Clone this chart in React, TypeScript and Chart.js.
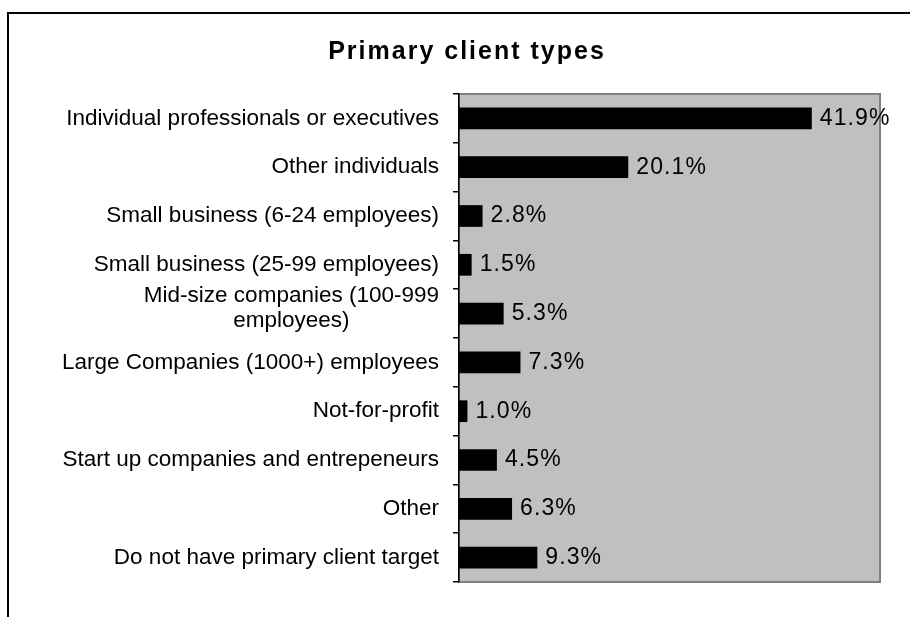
import React, { useEffect, useRef } from "react";
import { Chart, registerables } from "chart.js";

Chart.register(...registerables);

const TITLE = "Primary client types";
const categories: (string | string[])[] = [
  "Individual professionals or executives",
  "Other individuals",
  "Small business (6-24 employees)",
  "Small business (25-99 employees)",
  ["Mid-size companies (100-999", "employees)"],
  "Large Companies (1000+) employees",
  "Not-for-profit",
  "Start up companies and entrepeneurs",
  "Other",
  "Do not have primary client target",
];
const values: number[] = [41.9, 20.1, 2.8, 1.5, 5.3, 7.3, 1.0, 4.5, 6.3, 9.3];

const FONT = '"Liberation Sans", Arial, sans-serif';

const plotBgPlugin = {
  id: "plotBg",
  beforeDraw(chart: any) {
    const { ctx, chartArea: a } = chart;
    ctx.save();
    ctx.fillStyle = "#c0c0c0";
    ctx.fillRect(a.left, a.top, a.right - a.left, a.bottom - a.top);
    ctx.strokeStyle = "#808080";
    ctx.lineWidth = 2;
    ctx.strokeRect(a.left, a.top, a.right - a.left, a.bottom - a.top);
    ctx.restore();
  },
};

const textPlugin = {
  id: "texts",
  afterDraw(chart: any) {
    const { ctx } = chart;
    const yScale = chart.scales.y;
    ctx.save();
    // title
    ctx.fillStyle = "#000";
    ctx.font = `bold 25px ${FONT}`;
    (ctx as any).letterSpacing = "2px";
    ctx.textAlign = "center";
    ctx.textBaseline = "alphabetic";
    ctx.fillText(TITLE, 467, 59);

    // category labels
    ctx.font = `22.5px ${FONT}`;
    (ctx as any).letterSpacing = "0px";
    ctx.textBaseline = "middle";
    const rightX = 439;
    const lineH = 25;
    categories.forEach((lab, i) => {
      const lines = Array.isArray(lab) ? lab : [lab];
      const widths = lines.map((l) => ctx.measureText(l).width);
      const block = Math.max(...widths);
      const cy = yScale.getPixelForValue(i);
      const startY = cy - ((lines.length - 1) * lineH) / 2 - (lines.length > 1 ? 5 : 0);
      ctx.textAlign = "center";
      lines.forEach((l, j) => {
        ctx.fillText(l, rightX - block / 2, startY + j * lineH);
      });
    });

    // value labels
    ctx.font = `23px ${FONT}`;
    (ctx as any).letterSpacing = "1.1px";
    const meta = chart.getDatasetMeta(0);
    ctx.textAlign = "left";
    meta.data.forEach((bar: any, i: number) => {
      ctx.fillText(values[i].toFixed(1) + "%", bar.x + 8, bar.y);
    });
    ctx.restore();
  },
};

export default function App() {
  const ref = useRef<HTMLCanvasElement>(null);
  useEffect(() => {
    document.body.style.margin = "0";
    const chart = new Chart(ref.current!, {
      type: "bar",
      data: {
        labels: categories as any,
        datasets: [
          {
            data: values,
            backgroundColor: "#000000",
            borderColor: "#000000",
            borderWidth: 0,
            barPercentage: 0.445,
            categoryPercentage: 1,
          },
        ],
      },
      options: {
        indexAxis: "y",
        animation: false,
        responsive: false,
        devicePixelRatio: 1,
        layout: { padding: { top: 94, right: 30, bottom: 35, left: 0 } },
        plugins: {
          legend: { display: false },
          title: { display: false },
          tooltip: { enabled: false },
        },
        scales: {
          x: { display: false, min: 0, max: 50 },
          y: {
            offset: true,
            grid: {
              offset: true,
              drawOnChartArea: false,
              drawTicks: true,
              tickLength: 6,
              color: "#000",
              lineWidth: 1.5,
            },
            border: { display: true, color: "#000", width: 1.5 },
            ticks: { display: false, autoSkip: false },
            afterFit(scale: any) {
              scale.width = 459;
            },
          },
        },
      },
      plugins: [plotBgPlugin, textPlugin],
    });
    return () => chart.destroy();
  }, []);
  return (
    <div style={{ position: "relative", width: 910, height: 617, overflow: "hidden", background: "#fff" }}>
      <div
        style={{
          position: "absolute",
          left: 7,
          top: 12,
          width: 910,
          height: 620,
          borderLeft: "2px solid #000",
          borderTop: "2px solid #000",
        }}
      />
      <canvas ref={ref} width={910} height={617} style={{ position: "absolute", left: 0, top: 0, width: 910, height: 617 }} />
    </div>
  );
}
